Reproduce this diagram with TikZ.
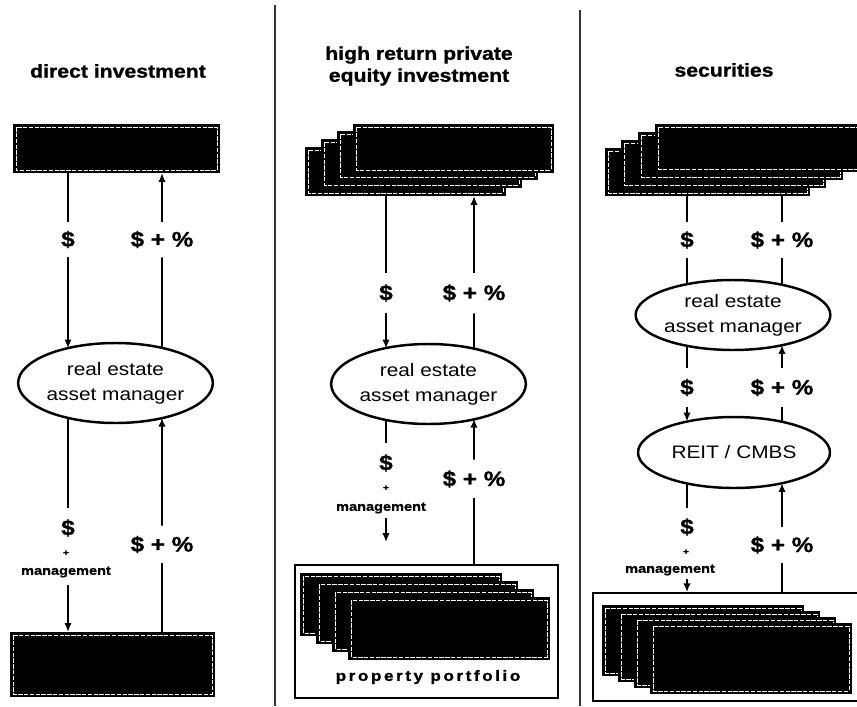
\documentclass[tikz,border=0pt]{standalone}
\usepackage{fontspec}
\setmainfont{Liberation Sans}[FakeStretch=1.15, BoldFeatures={FakeBold=1.2}]
\newfontfamily\spacedfont{Liberation Sans}[FakeStretch=1.15, LetterSpace=17, BoldFeatures={FakeBold=1.2}]
\usetikzlibrary{arrows.meta, shapes.geometric, calc}

\begin{document}
\begin{tikzpicture}[
  x=0.02cm, y=-0.02cm,
  divider/.style={draw=black!80, line width=0.6pt},
  conn/.style={draw=black, line width=1.1pt},
  arr/.style={conn, -{Latex[length=5pt,width=4.2pt]}},
  blk/.style={rectangle, fill=black, inner sep=0pt, outer sep=0pt,
    path picture={\draw[white, line width=0.35pt, dash pattern=on 2.5pt off 0.8pt]
      ([shift={(1.8pt,-1.8pt)}]path picture bounding box.north west) rectangle
      ([shift={(-1.8pt,1.8pt)}]path picture bounding box.south east);}},
  layerM/.style={blk, minimum width=4.02cm, minimum height=0.98cm},
  layerR/.style={blk, minimum width=4.1cm, minimum height=0.96cm},
  layerP/.style={blk, minimum width=4.04cm, minimum height=1.26cm},
  layerQ/.style={blk, minimum width=4.04cm, minimum height=1.42cm},
  frame/.style={rectangle, draw=black, line width=1pt, fill=white, inner sep=0pt},
  ell/.style={ellipse, draw=black, line width=1.4pt, inner sep=0pt, align=center,
    font=\fontsize{10.3}{14.2}\selectfont},
  title/.style={font=\bfseries\fontsize{10.5}{12.5}\selectfont, inner sep=0pt, align=center},
  dol/.style={font=\bfseries\fontsize{12}{12}\selectfont, inner sep=0pt},
  plus/.style={font=\bfseries\fontsize{5}{5}\selectfont, inner sep=0pt},
  mgmt/.style={font=\bfseries\fontsize{7.2}{7.2}\selectfont, inner sep=0pt},
]
\useasboundingbox (0,0) rectangle (857,706);

% column separators
\draw[divider] (275,5) -- (275,706);
\draw[divider] (580,10) -- (580,706);

% ---------------- direct investment ----------------
\node[title] (tA) at (118,71) {direct investment};
\node[blk, minimum width=4.14cm, minimum height=0.98cm] (invA) at (116.5,148.5) {};
\node[ell, minimum width=3.82cm, minimum height=1.6cm] (ellA) at (115.5,383) {real estate\\asset manager};
\node[blk, minimum width=4.1cm, minimum height=1.3cm] (propA) at (112.5,664.5) {};

\coordinate (eAnw) at ($(ellA.center)+(-47.5,-34.7)$);
\coordinate (eAne) at ($(ellA.center)+(46.5,-34.9)$);
\coordinate (eAsw) at ($(ellA.center)+(-47.5,34.7)$);
\coordinate (eAse) at ($(ellA.center)+(46.5,34.9)$);

\node[dol, minimum height=0.7cm] (a1) at (68,239.5) {\$};
\node[dol, minimum height=0.7cm] (a2) at (162,239.5) {\$ + \%};
\draw[conn] (invA.south -| a1) -- (a1.north);
\draw[arr] (a1.south) -- (eAnw);
\draw[arr] (a2.north) -- (invA.south -| a2);
\draw[conn] (a2.south) -- (eAne);

\node[dol, minimum height=0.8cm] (a3) at (68,528) {\$};
\node[plus] (a3p) at (66,553) {+};
\node[mgmt, minimum height=0.52cm] (a3m) at (66,572) {management};
\node[dol, minimum height=0.74cm] (a4) at (162,544.5) {\$ + \%};
\draw[conn] (eAsw) -- (a3.north);
\draw[arr] (a3m.south -| a3) -- (propA.north -| a3);
\draw[arr] (a4.north) -- (eAse);
\draw[conn] (a4.south) -- (propA.north -| a4);

% ---------------- high return private equity investment ----------------
\node[title] (tB) at (419,66) {high return private\\equity investment};
\node[layerM] (mT1) at (405.5,171.5) {};
\node[layerM] (mT2) at (421.5,163.5) {};
\node[layerM] (mT3) at (437.5,155.5) {};
\node[layerM] (mT4) at (453.5,148.5) {};
\node[ell, minimum width=3.74cm, minimum height=1.6cm] (ellB) at (428.5,384) {real estate\\asset manager};

\coordinate (eBnw) at ($(ellB.center)+(-42.5,-35.6)$);
\coordinate (eBne) at ($(ellB.center)+(45.5,-34.9)$);
\coordinate (eBsw) at ($(ellB.center)+(-42.5,35.6)$);
\coordinate (eBse) at ($(ellB.center)+(45.5,34.9)$);

\node[dol, minimum height=0.8cm] (b1) at (386,293) {\$};
\node[dol, minimum height=0.8cm] (b2) at (474,293) {\$ + \%};
\draw[conn] (mT1.south -| b1) -- (b1.north);
\draw[arr] (b1.south) -- (eBnw);
\draw[arr] (b2.north) -- (mT1.south -| b2);
\draw[conn] (b2.south) -- (eBne);

% property portfolio
\node[frame, minimum width=5.26cm, minimum height=2.66cm] (portB) at (426.5,631.5) {};
\node[layerP] (pB1) at (401,604.5) {};
\node[layerP] (pB2) at (417,612.5) {};
\node[layerP] (pB3) at (433,620.5) {};
\node[layerP] (pB4) at (449,628.5) {};
\node[inner sep=0pt, font=\spacedfont\bfseries\fontsize{8.5}{8.5}\selectfont] (pfB) at (428,677) {property portfolio};

\node[dol, minimum height=0.8cm] (b3) at (386,463) {\$};
\node[plus] (b3p) at (386,488) {+};
\node[mgmt, minimum height=0.4cm] (b3m) at (381,508) {management};
\coordinate (bEnd) at (386,542);
\node[dol, minimum height=0.76cm] (b4) at (474,479) {\$ + \%};
\draw[conn] (eBsw) -- (b3.north);
\draw[arr] (b3m.south -| b3) -- (bEnd);
\draw[arr] (b4.north) -- (eBse);
\draw[conn] (b4.south) -- (portB.north -| b4);

% ---------------- securities ----------------
\node[title] (tC) at (724,70) {securities};
\node[layerR] (rT1) at (707.5,172) {};
\node[layerR] (rT2) at (723.5,164) {};
\node[layerR] (rT3) at (740.5,156) {};
\node[layerR] (rT4) at (757.5,148) {};
\node[ell, minimum width=3.8cm, minimum height=1.4cm] (ellC) at (733,315) {real estate\\asset manager};
\node[ell, minimum width=3.84cm, minimum height=1.42cm] (ellD) at (734,452.5) {REIT / CMBS};

\coordinate (eCnw) at ($(ellC.center)+(-46,-30.6)$);
\coordinate (eCne) at ($(ellC.center)+(49,-30.0)$);
\coordinate (eCsw) at ($(ellC.center)+(-46,30.6)$);
\coordinate (eCse) at ($(ellC.center)+(49,30.0)$);
\coordinate (eDnw) at ($(ellD.center)+(-47,-31.0)$);
\coordinate (eDne) at ($(ellD.center)+(48,-30.7)$);
\coordinate (eDsw) at ($(ellD.center)+(-47,31.0)$);
\coordinate (eDse) at ($(ellD.center)+(48,30.7)$);

\node[dol, minimum height=0.72cm] (c1) at (687,240) {\$};
\node[dol, minimum height=0.72cm] (c2) at (782,240) {\$ + \%};
\draw[conn] (rT1.south -| c1) -- (c1.north);
\draw[conn] (c1.south) -- (eCnw);
\draw[conn] (rT1.south -| c2) -- (c2.north);
\draw[conn] (c2.south) -- (eCne);

\node[dol, minimum height=0.78cm] (c3) at (687,387.5) {\$};
\node[dol, minimum height=0.78cm] (c4) at (782,387.5) {\$ + \%};
\draw[conn] (eCsw) -- (c3.north);
\draw[arr] (c3.south) -- (eDnw);
\draw[arr] (c4.north) -- (eCse);
\draw[conn] (c4.south) -- (eDne);

% securitised portfolio
\node[frame, minimum width=5.74cm, minimum height=2.16cm] (portC) at (736.5,647) {};
\node[layerQ] (pC1) at (703,640.5) {};
\node[layerQ] (pC2) at (719,646.5) {};
\node[layerQ] (pC3) at (735,652.5) {};
\node[layerQ] (pC4) at (751,658.5) {};

\node[dol, minimum height=0.76cm] (c5) at (687,527) {\$};
\node[plus] (c5p) at (686,552) {+};
\node[mgmt, minimum height=0.34cm] (c5m) at (670,570) {management};
\node[dol, minimum height=0.72cm] (c6) at (782,545) {\$ + \%};
\draw[conn] (eDsw) -- (c5.north);
\draw[arr] (c5m.south -| c5) -- (portC.north -| c5);
\draw[arr] (c6.north) -- (eDse);
\draw[conn] (c6.south) -- (portC.north -| c6);
\end{tikzpicture}
\end{document}
